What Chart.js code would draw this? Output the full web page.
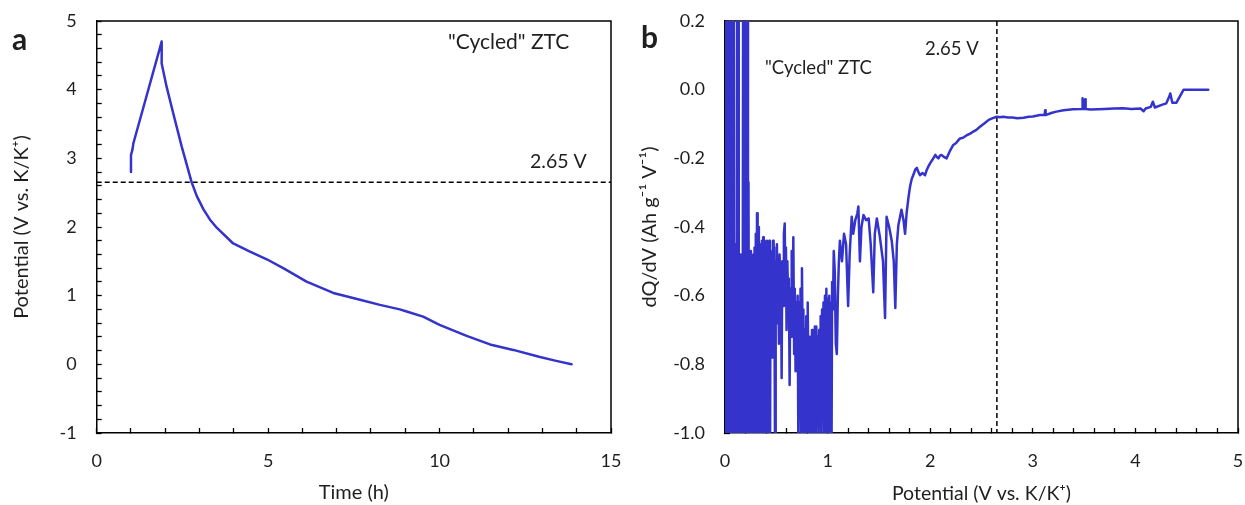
<!DOCTYPE html>
<html><head><meta charset="utf-8">
<script src="https://cdn.jsdelivr.net/npm/chart.js@4.4.1/dist/chart.umd.min.js"></script>
<style>
html,body{margin:0;padding:0;background:#fff;width:1245px;height:505px;overflow:hidden;}
#c1{position:absolute;left:0;top:0;}
#c2{position:absolute;left:622px;top:0;}
</style></head><body>
<canvas id="c1" width="622" height="505"></canvas>
<canvas id="c2" width="623" height="505"></canvas>
<script>
// ---------- Panel a: potential vs time ----------
const timeH = [1.00, 1.00, 1.04, 1.07, 1.45, 1.895, 1.895, 2.04, 2.23, 2.48, 2.77, 2.92, 3.11, 3.30, 3.50, 3.98, 4.47, 4.96, 5.44, 6.12, 6.90, 7.68, 8.26, 8.84, 9.04, 9.52, 10.00, 10.79, 11.47, 12.15, 12.90, 13.40, 13.85];
const potentialV = [2.80, 3.05, 3.12, 3.22, 3.90, 4.70, 4.38, 4.04, 3.66, 3.17, 2.65, 2.45, 2.26, 2.11, 1.99, 1.76, 1.64, 1.53, 1.40, 1.205, 1.04, 0.94, 0.866, 0.80, 0.77, 0.695, 0.575, 0.415, 0.29, 0.21, 0.11, 0.05, 0.00];
const cutoffV = 2.65;
const timeTickLabels = ['0', '5', '10', '15'];
const potTickLabels = ['-1', '0', '1', '2', '3', '4', '5'];

// ---------- Panel b: dQ/dV vs potential ----------
const dqdvPotential = [
 0.000,0.001,0.005,0.010,0.015,0.020,0.025,0.030,0.036,0.041,0.046,0.052,0.057,0.062,0.066,0.071,0.076,0.081,0.086,0.092,
 0.098,0.104,0.110,0.115,0.119,0.124,0.128,0.134,0.141,0.147,0.153,0.159,0.165,0.171,0.177,0.182,0.187,0.192,0.197,0.202,
 0.207,0.213,0.218,0.224,0.229,0.235,
 0.240,0.246,0.252,0.258,0.264,0.270,0.276,0.282,0.288,0.294,0.300,0.306,0.312,0.318,0.324,0.330,0.336,0.342,0.348,0.354,
 0.360,0.366,0.372,0.378,0.384,0.390,0.396,0.402,0.408,0.414,0.420,0.426,0.432,0.438,0.444,0.450,0.456,0.462,0.468,0.474,
 0.480,0.488,0.494,0.500,0.506,0.512,0.518,0.526,0.532,0.540,0.546,0.552,0.558,0.566,0.574,0.582,0.588,0.594,0.600,0.608,
 0.616,0.622,0.630,0.636,0.644,0.650,0.658,0.666,0.674,0.680,0.688,0.694,0.702,0.708,0.716,0.722,0.730,0.736,0.744,0.750,
 0.758,0.764,0.772,0.778,0.786,0.792,0.800,0.806,0.814,0.820,0.828,0.834,0.842,0.848,0.856,0.862,0.870,0.876,0.884,0.890,
 0.898,0.904,0.912,0.918,0.926,0.932,0.940,0.946,0.954,0.960,0.968,0.974,0.982,0.988,0.996,1.002,1.010,1.016,1.024,1.032,
 1.038,1.044,1.052,1.060,1.070,1.080,1.090,1.100,1.110,1.120,1.140,1.160,1.180,1.200,1.215,1.235,1.250,1.270,1.290,1.300,
 1.315,1.330,1.350,1.375,1.400,1.420,1.445,1.460,1.480,1.510,1.540,1.560,1.575,1.600,1.625,1.645,1.660,1.675,1.690,1.720,
 1.740,1.755,1.770,1.790,1.805,1.820,1.840,1.855,1.870,1.885,1.900,1.925,1.950,1.965,1.980,2.000,2.020,2.050,2.065,2.080,
 2.095,2.110,2.130,2.160,2.190,2.225,2.250,2.290,2.320,2.360,2.390,2.420,2.450,2.485,2.530,2.570,2.610,2.650,2.680,2.710,
 2.760,2.800,2.850,2.910,2.960,3.000,3.070,3.115,3.120,3.125,3.180,3.230,3.300,3.390,3.480,3.485,3.490,3.505,3.510,3.515,
 3.560,3.640,3.700,3.790,3.880,3.960,4.050,4.080,4.100,4.150,4.170,4.190,4.250,4.300,4.330,4.340,4.360,4.400,4.470,4.710];
const dqdvValue = [
 0.00,-1.20,0.50,-1.20,0.50,-1.20,0.45,-1.20,0.50,-0.90,0.40,-1.20,-0.35,-1.20,0.50,-1.10,0.50,-1.20,0.45,-1.20,
 -0.45,-1.00,-0.55,-1.20,0.50,-1.20,0.50,-1.20,-0.55,-1.10,-0.48,-1.20,-0.62,-1.20,0.50,-1.20,0.50,-1.00,0.50,-1.20,
 0.50,-0.90,0.40,-1.20,-0.27,-1.20,
 -0.55,-1.20,-0.47,-0.95,-0.52,-1.15,-0.48,-0.75,-0.46,-1.20,-0.42,-0.85,-0.36,-1.10,-0.40,-0.72,-0.46,-1.20,-0.45,-0.68,
 -0.44,-1.10,-0.43,-0.85,-0.44,-1.20,-0.45,-0.62,-0.44,-1.10,-0.46,-0.72,-0.44,-1.20,-0.47,-0.66,-0.52,-0.78,-0.44,-0.70,
 -0.46,-1.10,-0.50,-0.68,-0.45,-0.62,-0.52,-0.74,-0.48,-0.60,-0.55,-0.84,-0.50,-0.63,-0.42,-0.39,-0.58,-0.46,-0.70,-0.50,
 -0.64,-0.55,-0.86,-0.58,-0.72,-0.47,-0.68,-0.43,-0.77,-0.58,-0.82,-0.62,-0.74,-0.60,-1.10,-0.62,-0.88,-0.58,-1.05,-0.52,
 -0.80,-0.64,-1.10,-0.70,-0.93,-0.66,-1.10,-0.62,-0.88,-0.72,-1.10,-0.74,-0.90,-0.70,-1.10,-0.72,-0.86,-0.69,-1.10,-0.69,
 -0.82,-0.72,-1.05,-0.70,-0.85,-0.66,-1.10,-0.64,-0.84,-0.62,-1.05,-0.60,-0.80,-0.58,-1.10,-0.61,-0.86,-0.60,-1.10,-0.62,
 -1.10,-0.56,-0.64,-0.47,-0.53,-0.74,-0.77,-0.60,-0.50,-0.44,-0.50,-0.42,-0.45,-0.63,-0.48,-0.37,-0.42,-0.38,-0.36,-0.34,
 -0.50,-0.40,-0.365,-0.38,-0.375,-0.45,-0.59,-0.42,-0.375,-0.43,-0.50,-0.665,-0.37,-0.40,-0.44,-0.50,-0.636,-0.45,-0.394,-0.35,
 -0.38,-0.42,-0.36,-0.31,-0.28,-0.26,-0.245,-0.232,-0.228,-0.240,-0.249,-0.243,-0.249,-0.235,-0.225,-0.214,-0.205,-0.19,-0.196,-0.20,
 -0.192,-0.19,-0.195,-0.20,-0.18,-0.161,-0.156,-0.142,-0.140,-0.132,-0.128,-0.122,-0.117,-0.108,-0.098,-0.088,-0.083,-0.079,-0.080,-0.079,
 -0.081,-0.081,-0.083,-0.082,-0.079,-0.078,-0.074,-0.074,-0.06,-0.074,-0.068,-0.064,-0.060,-0.057,-0.056,-0.025,-0.056,-0.056,-0.028,-0.056,
 -0.058,-0.057,-0.056,-0.055,-0.054,-0.056,-0.055,-0.063,-0.055,-0.050,-0.035,-0.052,-0.045,-0.040,-0.020,-0.011,-0.038,-0.038,0.000,0.000];
const dqdvTickLabels = ['0.2', '0.0', '-0.2', '-0.4', '-0.6', '-0.8', '-1.0'];
const potTickLabelsB = ['0', '1', '2', '3', '4', '5'];

const BLUE = '#3434CC';
const INK = '#1f1f1f';
Chart.defaults.font.family = 'Lato, "Open Sans", sans-serif';
Chart.defaults.font.size = 18;
Chart.defaults.color = INK;

const isWhole = v => Math.abs(v - Math.round(v)) < 1e-6;

const annotPlugin = {
  id: 'annot',
  afterDraw(chart, args, opts) {
    const ctx = chart.ctx;
    ctx.save();
    (opts.items || []).forEach(it => {
      ctx.font = it.font;
      ctx.fillStyle = INK;
      ctx.textAlign = it.align || 'left';
      ctx.textBaseline = 'middle';
      ctx.fillText(it.text, it.x, it.y);
    });
    ctx.restore();
  }
};
const boxPlugin = {
  id: 'box',
  beforeDatasetsDraw(chart) {
    const {ctx, chartArea: a} = chart;
    ctx.save();
    ctx.strokeStyle = '#000';
    ctx.lineWidth = 1.5;
    ctx.beginPath();
    ctx.moveTo(a.left, a.top); ctx.lineTo(a.right, a.top); ctx.lineTo(a.right, a.bottom);
    ctx.stroke();
    ctx.restore();
  }
};

function axisCommon() {
  return {
    border: {display: true, color: '#000', width: 1.5},
    grid: {display: true, drawOnChartArea: false, drawTicks: true, tickLength: -5, tickWidth: 1.3, tickColor: '#000'},
  };
}

function makeChart(id, c) {
  return new Chart(document.getElementById(id), {
    type: 'line',
    data: {datasets: c.datasets},
    plugins: [annotPlugin, boxPlugin],
    options: {
      responsive: false, animation: false, events: [],
      layout: {padding: {left: 0, right: c.padRight, top: 21, bottom: 0}},
      plugins: {legend: {display: false}, tooltip: {enabled: false}, annot: {items: c.annots}},
      elements: {point: {radius: 0}, line: {tension: 0, borderJoinStyle: 'round', borderCapStyle: 'round'}},
      scales: {
        x: Object.assign(axisCommon(), {
          type: 'linear', min: c.xMin, max: c.xMax,
          ticks: {stepSize: c.xStep, autoSkip: false, maxRotation: 0, padding: 22,
                  callback: v => (isWhole(v) && c.xLabels.includes(String(Math.round(v)))) ? String(Math.round(v)) : ''},
          title: {display: true, text: c.xTitle, font: {size: c.xTitleSize}, padding: {top: 0, bottom: 0}},
          afterFit: s => { s.height = 72; s.paddingLeft = 0; s.paddingRight = 0; }
        }),
        y: Object.assign(axisCommon(), {
          type: 'linear', min: c.yMin, max: c.yMax,
          ticks: {stepSize: c.yStep, autoSkip: false, padding: 25, callback: c.yCallback},
          title: {display: true, text: c.yTitle, font: {size: c.yTitleSize}, padding: {top: c.yTitlePad, bottom: 0}},
          afterFit: s => { s.width = c.yWidth; s.paddingTop = 0; s.paddingBottom = 0; }
        })
      }
    }
  });
}

const ptsA = timeH.map((t, i) => ({x: t, y: potentialV[i]}));
makeChart('c1', {
  datasets: [
    {data: ptsA, borderColor: BLUE, borderWidth: 2.5, fill: false},
    {data: [{x: 0, y: cutoffV}, {x: 15, y: cutoffV}], borderColor: '#000', borderWidth: 1.5, borderDash: [5, 3], borderCapStyle: 'butt', fill: false}
  ],
  padRight: 11, yWidth: 96.7, yTitlePad: 9.5,
  xMin: 0, xMax: 15, xStep: 1, xLabels: timeTickLabels, xTitle: 'Time (h)', xTitleSize: 20,
  yMin: -1, yMax: 5, yStep: 0.2, yTitle: 'Potential (V vs. K/K\u207A)', yTitleSize: 20,
  yCallback: v => (isWhole(v) && potTickLabels.includes(String(Math.round(v)))) ? String(Math.round(v)) : '',
  annots: [
    {text: 'a', x: 12, y: 40, font: 'bold 30px Lato, sans-serif'},
    {text: '"Cycled" ZTC', x: 448, y: 42, font: '21px Lato, sans-serif'},
    {text: '2.65 V', x: 530, y: 162, font: '19.5px Lato, sans-serif'}
  ]
});

const ptsB = dqdvPotential.map((p, i) => ({x: p, y: dqdvValue[i]}));
makeChart('c2', {
  datasets: [
    {data: ptsB, borderColor: BLUE, borderWidth: 2.5, fill: false},
    {data: [{x: cutoffV, y: 0.2}, {x: cutoffV, y: -1.0}], borderColor: '#000', borderWidth: 1.5, borderDash: [5, 3], borderCapStyle: 'butt', fill: false}
  ],
  padRight: 7, yWidth: 103, yTitlePad: 16,
  xMin: 0, xMax: 5, xStep: 0.2, xLabels: potTickLabelsB, xTitle: 'Potential (V vs. K/K\u207A)', xTitleSize: 19.5,
  yMin: -1.0, yMax: 0.2, yStep: 0.2, yTitle: 'dQ/dV (Ah g\u207B\u00B9 V\u207B\u00B9)', yTitleSize: 20,
  yCallback: v => { const s = (Math.abs(v) < 1e-9 ? 0 : v).toFixed(1); return dqdvTickLabels.includes(s) ? s : ''; },
  annots: [
    {text: 'b', x: 19, y: 38, font: 'bold 30px Lato, sans-serif'},
    {text: '"Cycled" ZTC', x: 143, y: 68, font: '18.5px Lato, sans-serif'},
    {text: '2.65 V', x: 303, y: 49, font: '18.5px Lato, sans-serif'}
  ]
});
</script>
</body></html>
